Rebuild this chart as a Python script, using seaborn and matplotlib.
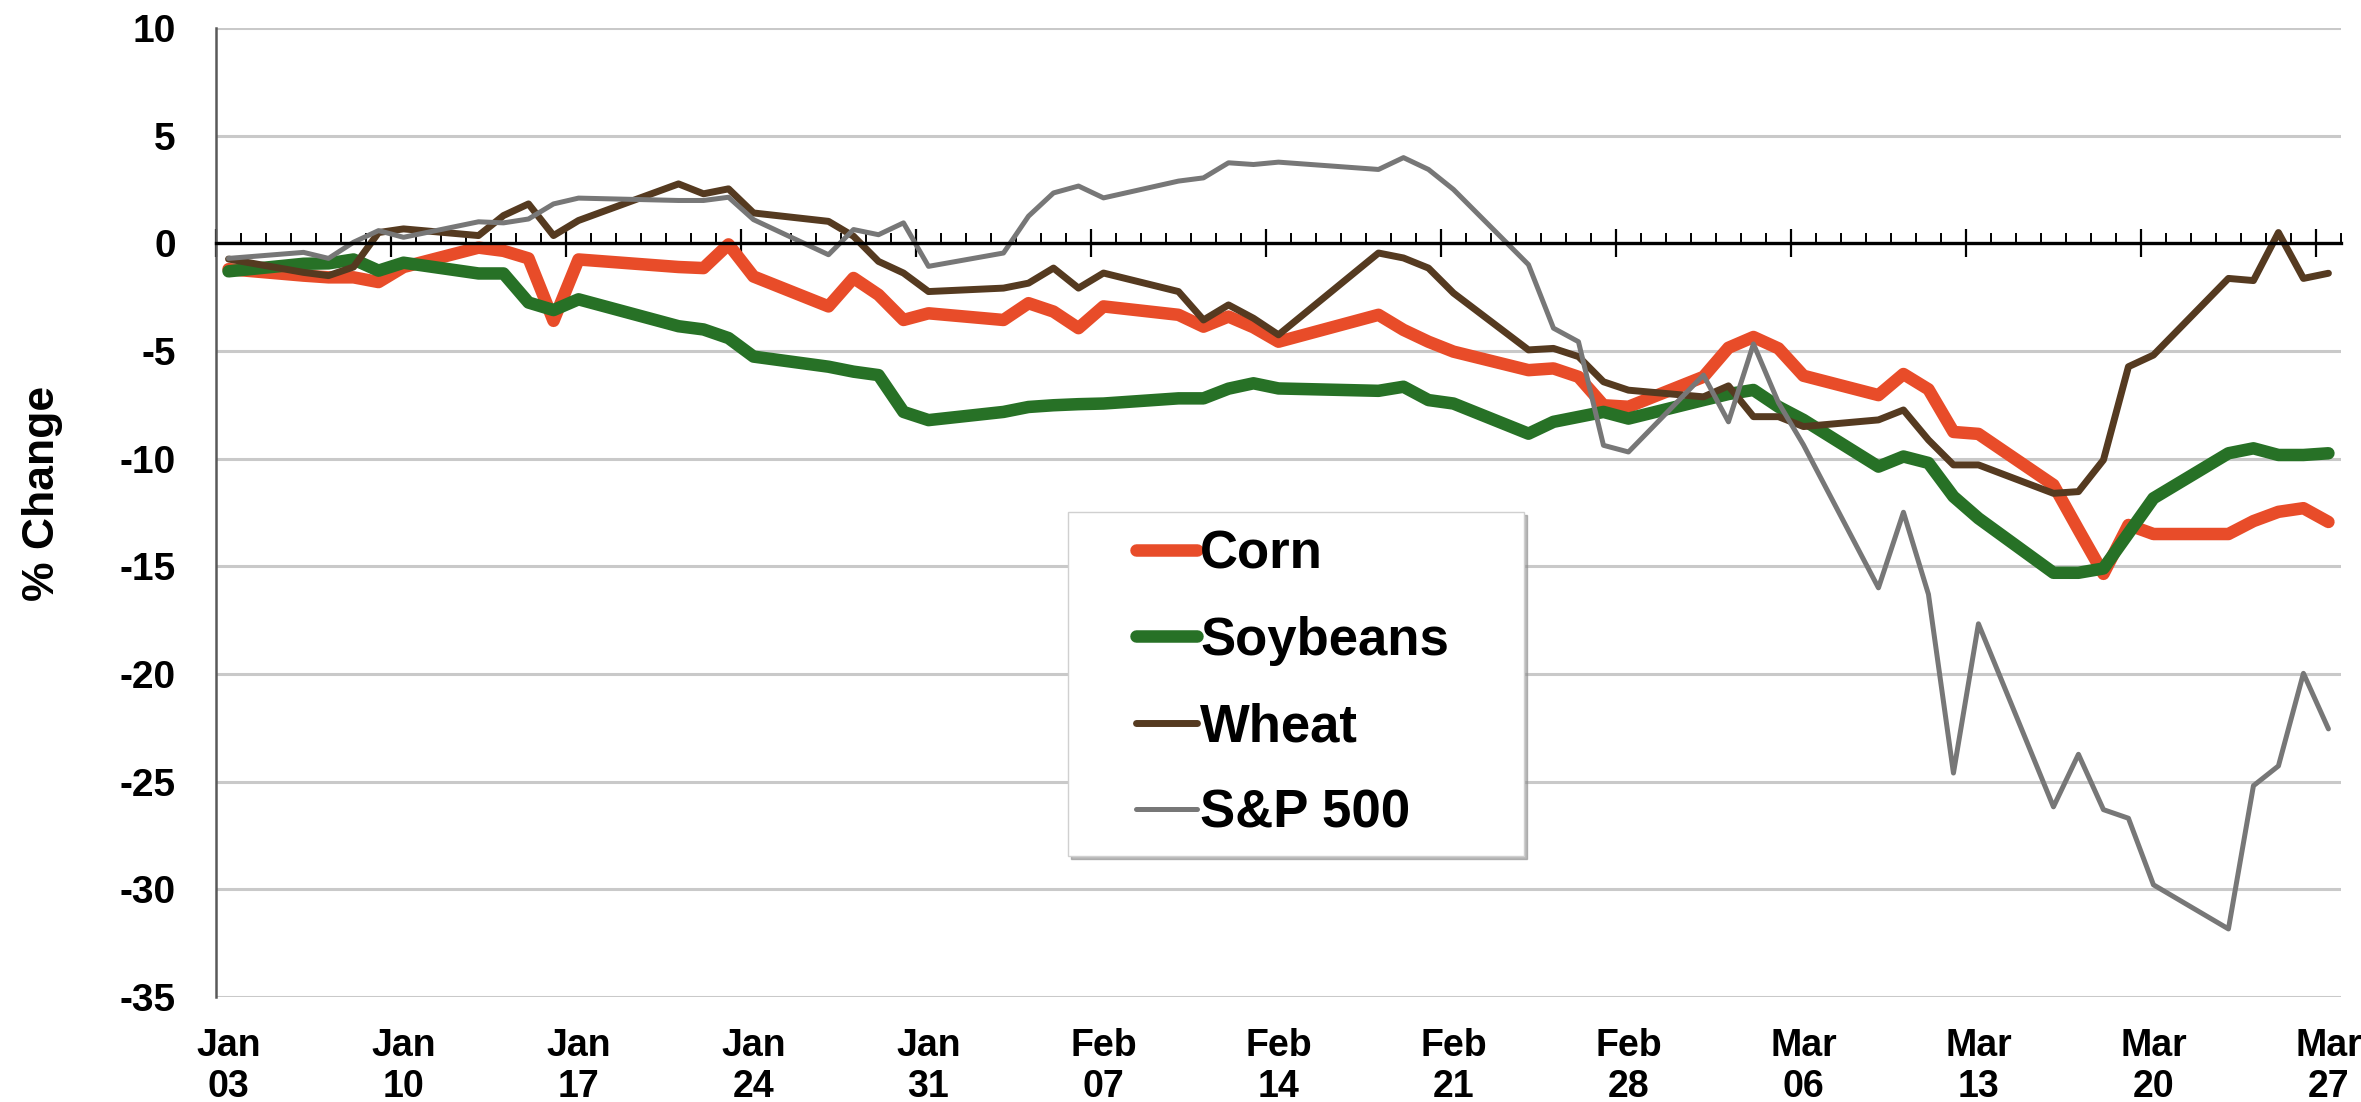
import pandas as pd
import matplotlib
matplotlib.use("Agg")
import matplotlib.pyplot as plt
import matplotlib.dates as mdates
import matplotlib.ticker as mticker
from matplotlib.lines import Line2D
from matplotlib.legend_handler import HandlerLine2D
import seaborn as sns

# Trading days, % change since Jan 2 2020
dates = [
    "2020-01-03", "2020-01-06", "2020-01-07", "2020-01-08", "2020-01-09", "2020-01-10",
    "2020-01-13", "2020-01-14", "2020-01-15", "2020-01-16", "2020-01-17",
    "2020-01-21", "2020-01-22", "2020-01-23", "2020-01-24",
    "2020-01-27", "2020-01-28", "2020-01-29", "2020-01-30", "2020-01-31",
    "2020-02-03", "2020-02-04", "2020-02-05", "2020-02-06", "2020-02-07",
    "2020-02-10", "2020-02-11", "2020-02-12", "2020-02-13", "2020-02-14",
    "2020-02-18", "2020-02-19", "2020-02-20", "2020-02-21",
    "2020-02-24", "2020-02-25", "2020-02-26", "2020-02-27", "2020-02-28",
    "2020-03-02", "2020-03-03", "2020-03-04", "2020-03-05", "2020-03-06",
    "2020-03-09", "2020-03-10", "2020-03-11", "2020-03-12", "2020-03-13",
    "2020-03-16", "2020-03-17", "2020-03-18", "2020-03-19", "2020-03-20",
    "2020-03-23", "2020-03-24", "2020-03-25", "2020-03-26", "2020-03-27",
]

corn = [
    -1.2, -1.5, -1.58, -1.58, -1.8, -1.1, -0.2, -0.35, -0.7, -3.6, -0.75, -1.1, -1.15, -0.05,
    -1.54, -2.93, -1.61, -2.39, -3.56, -3.25, -3.56, -2.78, -3.17, -3.94, -2.93, -3.32, -3.87, -3.4,
    -3.9, -4.57, -3.32, -4.02, -4.57, -5.03, -5.89, -5.81, -6.2, -7.52, -7.59, -6.2, -4.85,
    -4.35, -4.88, -6.15, -7.05, -6.07, -6.78, -8.76, -8.85, -11.22, -13.3, -15.35, -13.08,
    -13.5, -13.5, -12.9, -12.47, -12.3, -12.94,
]

soybeans = [
    -1.3, -0.95, -0.93, -0.75, -1.27, -0.9, -1.4, -1.4, -2.75, -3.1, -2.6, -3.85, -4.0, -4.4,
    -5.26, -5.73, -5.96, -6.12, -7.83, -8.21, -7.83, -7.6, -7.52, -7.47, -7.44, -7.2, -7.2, -6.75,
    -6.5, -6.74, -6.85, -6.66, -7.28, -7.44, -8.84, -8.29, -8.06, -7.83, -8.14, -7.28, -7.0,
    -6.81, -7.59, -8.2, -10.37, -9.9, -10.2, -11.76, -12.77, -15.3, -15.3, -15.1, -13.47,
    -11.84, -9.75, -9.52, -9.83, -9.83, -9.75,
]

wheat = [
    -0.73, -1.35, -1.5, -1.1, 0.5, 0.67, 0.36, 1.29, 1.83, 0.36, 1.06, 2.76, 2.3, 2.53,
    1.41, 1.02, 0.33, -0.84, -1.38, -2.24, -2.08, -1.85, -1.15, -2.08, -1.38, -2.24, -3.56, -2.86,
    -3.48, -4.25, -0.45, -0.68, -1.15, -2.31, -4.95, -4.88, -5.26, -6.43, -6.82, -7.13, -6.62,
    -8.05, -8.05, -8.51, -8.2, -7.74, -9.13, -10.29, -10.29, -11.61, -11.53, -10.06, -5.73,
    -5.19, -1.63, -1.73, 0.5, -1.63, -1.39,
]

sp500 = [
    -0.7, -0.42, -0.7, 0.05, 0.59, 0.28, 1.0, 0.95, 1.13, 1.83, 2.1, 1.99, 1.99, 2.14,
    1.1, -0.53, 0.64, 0.4, 0.95, -1.07, -0.45, 1.26, 2.34, 2.66, 2.11, 2.89, 3.04, 3.74,
    3.66, 3.77, 3.43, 3.98, 3.43, 2.5, -0.99, -3.94, -4.57, -9.38, -9.69, -6.12, -8.29,
    -4.67, -7.4, -9.36, -16.0, -12.49, -16.3, -24.6, -17.67, -26.17, -23.73, -26.3, -26.7,
    -29.79, -31.84, -25.19, -24.27, -19.97, -22.55,
]

series_names = ["Corn", "Soybeans", "Wheat", "S&P 500"]
series_colors = ["#E84C29", "#277126", "#553A20", "#777777"]
series_widths = [9.0, 9.0, 5.0, 3.6]

df = pd.DataFrame({
    "date": pd.to_datetime(dates),
    "Corn": corn,
    "Soybeans": soybeans,
    "Wheat": wheat,
    "S&P 500": sp500,
})

sns.set_theme(style="white")
plt.rcParams["font.family"] = ["Liberation Sans", "DejaVu Sans"]
plt.rcParams["font.weight"] = "bold"
plt.rcParams["axes.unicode_minus"] = False
plt.rcParams["text.color"] = "black"
plt.rcParams["axes.labelcolor"] = "black"
plt.rcParams["xtick.color"] = "black"
plt.rcParams["ytick.color"] = "black"

fig = plt.figure(figsize=(23.61, 11.02), dpi=100)
ax = fig.add_axes([0.0915, 0.0953, 0.9, 0.8793])

for name, col, lw in zip(series_names, series_colors, series_widths):
    sns.lineplot(data=df, x="date", y=name, ax=ax, color=col, linewidth=lw,
                 label=name, sort=False, solid_joinstyle="round",
                 solid_capstyle="round")

half_day = pd.Timedelta(hours=12)
start = df["date"].iloc[0]
end = df["date"].iloc[-1]
ax.set_xlim(start - half_day, end + half_day)
ax.set_ylim(-35, 10)

# y axis
ax.set_yticks(range(-35, 11, 5))
ax.yaxis.grid(True, color="#C9C9C9", linewidth=2.2)
ax.tick_params(axis="y", length=0, pad=29, labelsize=28, labelcolor="black")
ax.set_ylabel("% Change", fontsize=32, fontweight="bold", color="black")
ax.yaxis.set_label_coords(-0.072, 0.52)
ax.set_xlabel("")

ax.spines["top"].set_visible(False)
ax.spines["right"].set_visible(False)
ax.spines["left"].set_color("#595959")
ax.spines["left"].set_linewidth(1.8)

# x axis line runs through zero, tick marks between the days
week_days = pd.date_range(start, end, freq="7D")
ax.spines["bottom"].set_position(("data", 0))
ax.spines["bottom"].set_color("black")
ax.spines["bottom"].set_linewidth(2.4)
ax.set_xticks(week_days - half_day)
ax.set_xticks(pd.date_range(start, end + pd.Timedelta(days=1)) - half_day, minor=True)
ax.xaxis.set_major_formatter(mticker.NullFormatter())
ax.xaxis.set_minor_formatter(mticker.NullFormatter())
ax.tick_params(axis="x", which="major", direction="inout", length=20, width=1.6,
               color="black", bottom=True)
ax.tick_params(axis="x", which="minor", direction="in", length=7, width=1.4,
               color="black", bottom=True)

# date labels below the plot
date_axis = ax.secondary_xaxis("bottom")
date_axis.set_xticks(mdates.date2num(week_days))
date_axis.xaxis.set_major_formatter(mdates.DateFormatter("%b\n%d"))
date_axis.tick_params(length=0, pad=22, labelsize=27, labelcolor="black")
date_axis.spines["bottom"].set_visible(False)

leg = ax.legend(loc="upper left", bbox_to_anchor=(0.401, 0.1507, 0.2145, 0.3498),
                mode="expand", borderaxespad=0,
                prop={"weight": "bold", "size": 38},
                frameon=True, fancybox=False, shadow={"color": "#8c8c8c", "alpha": 0.6},
                borderpad=0.33, labelspacing=0.69, handlelength=2.12, handletextpad=0.05,
                handler_map={Line2D: HandlerLine2D(xpad=0.95)})
leg.get_frame().set_edgecolor("#D0D0D0")
leg.get_frame().set_linewidth(1.0)
for txt in leg.get_texts():
    txt.set_color("black")

fig.savefig("out.png", dpi=100, facecolor="white")
